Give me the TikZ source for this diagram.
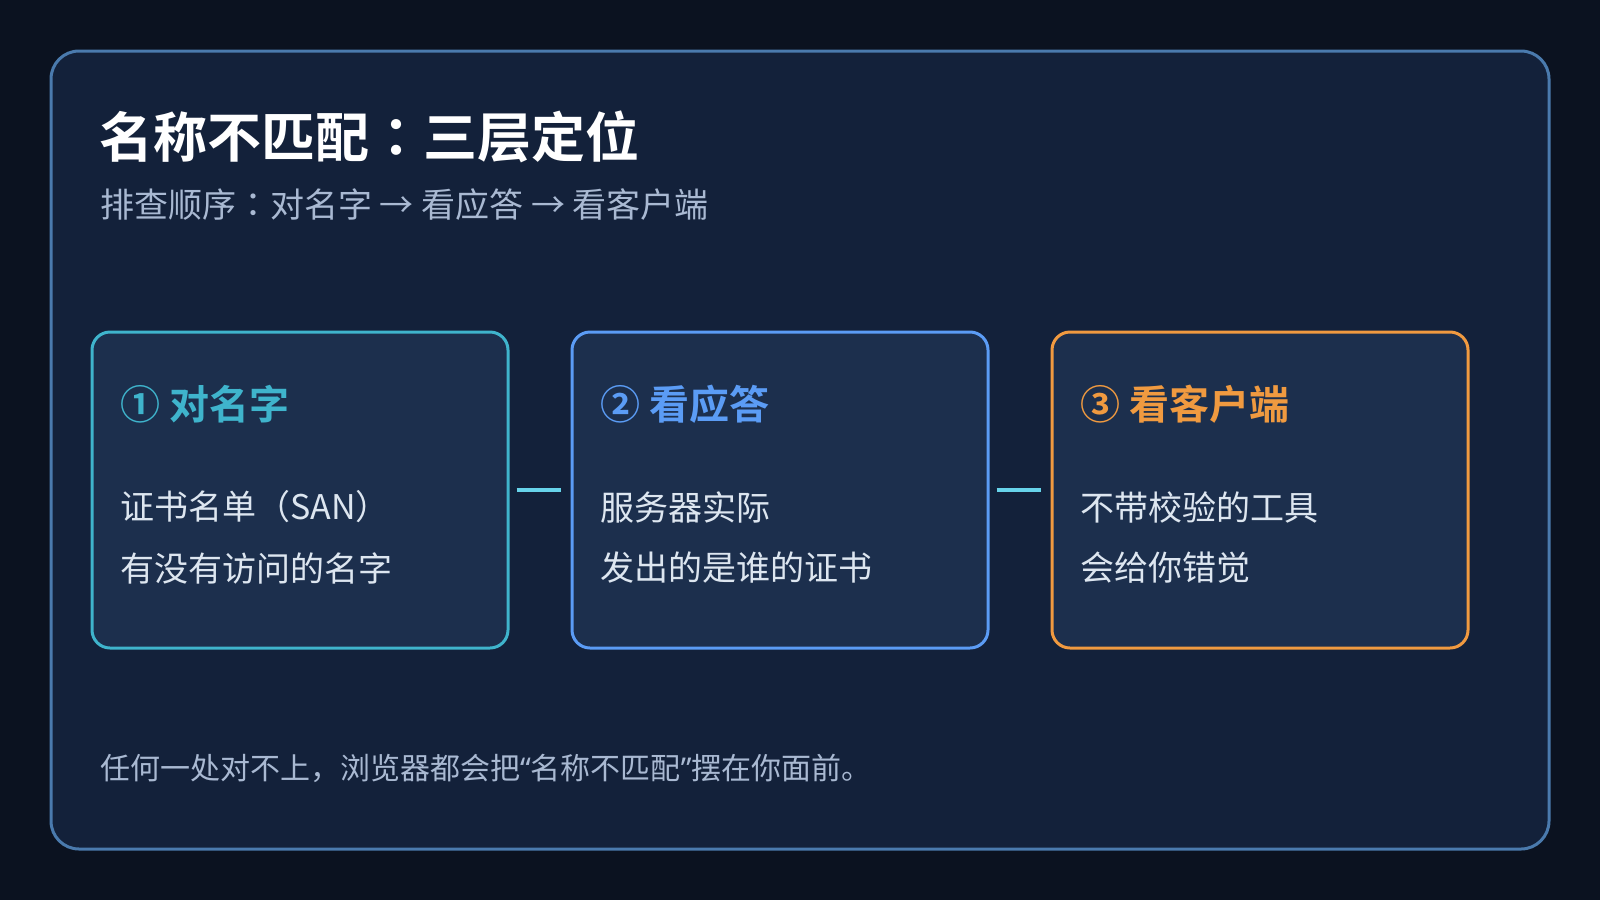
\documentclass[tikz,border=0pt]{standalone}
\usepackage{fontspec}
\setmainfont{Noto Sans CJK SC}
\newfontfamily\cjkbold{Noto Sans CJK SC Bold}
\newfontfamily\cjkreg{Noto Sans CJK SC}
\newfontfamily\jpbold{Noto Sans CJK JP Bold}
\newfontfamily\jpreg{Noto Sans CJK JP}
\newfontfamily\latq{Noto Sans}
\definecolor{pagebg}{HTML}{0B1220}
\definecolor{panelbg}{HTML}{13213A}
\definecolor{framec}{HTML}{4A7AAD}
\definecolor{boxbg}{HTML}{1C2F4D}
\definecolor{cyanc}{HTML}{3FB4CC}
\definecolor{bluec}{HTML}{5B9CF5}
\definecolor{orangec}{HTML}{F09A40}
\definecolor{linkc}{HTML}{67D3EA}
\definecolor{subc}{HTML}{A9B9D2}
\definecolor{bodyc}{HTML}{DDE6F0}
\tikzset{
  stepcard/.style={draw=#1, line width=3pt, fill=boxbg, rounded corners=18pt,
    minimum width=416pt, minimum height=316pt, inner sep=0pt},
  headtxt/.style={anchor=west, inner sep=0pt, text=#1, font=\cjkbold\fontsize{40}{46}\selectfont},
  bodytxt/.style={anchor=west, inner sep=0pt, text=bodyc, font=\cjkreg\fontsize{34}{40}\selectfont},
  link/.style={draw=linkc, line width=4pt},
}
\begin{document}
\begin{tikzpicture}[x=1pt,y=-1pt]
\useasboundingbox (0,0) rectangle (1600,900);
\fill[pagebg] (0,0) rectangle (1600,900);
\draw[framec, line width=3pt, fill=panelbg, rounded corners=28pt] (51,51) rectangle (1549,849);
\node[anchor=west, inner sep=0pt, text=white, font=\cjkbold\fontsize{54}{60}\selectfont] (title) at (99,137) {名称不匹配{\jpbold ：}三层定位};
\node[anchor=west, inner sep=0pt, text=subc, font=\cjkreg\fontsize{34}{40}\selectfont] (subtitle) at (100,205) {排查顺序{\jpreg ：}对名字 → 看应答 → 看客户端};
\node[stepcard=cyanc] (b1) at (300,490) {};
\node[stepcard=bluec] (b2) at (780,490) {};
\node[stepcard=orangec] (b3) at (1260,490) {};
\draw[link] ([xshift=7pt]b1.east) -- ([xshift=-10pt]b2.west);
\draw[link] ([xshift=7pt]b2.east) -- ([xshift=-10pt]b3.west);
\node[headtxt=cyanc] (h1) at (120,404) {① 对名字};
\node[headtxt=bluec] (h2) at (600,404) {② 看应答};
\node[headtxt=orangec] (h3) at (1080,404) {③ 看客户端};
\node[bodytxt] (t1a) at (120,507) {证书名单（SAN）};
\node[bodytxt] (t1b) at (120,568) {有没有访问的名字};
\node[bodytxt] (t2a) at (600,507) {服务器实际};
\node[bodytxt] (t2b) at (600,568) {发出的是谁的证书};
\node[bodytxt] (t3a) at (1080,507) {不带校验的工具};
\node[bodytxt] (t3b) at (1080,568) {会给你错觉};
\node[anchor=west, inner sep=0pt, text=subc, font=\cjkreg\fontsize{30}{36}\selectfont] (foot) at (100,768) {任何一处对不上，浏览器都会把{\latq “}名称不匹配{\latq ”}摆在你面前。};
\end{tikzpicture}
\end{document}
